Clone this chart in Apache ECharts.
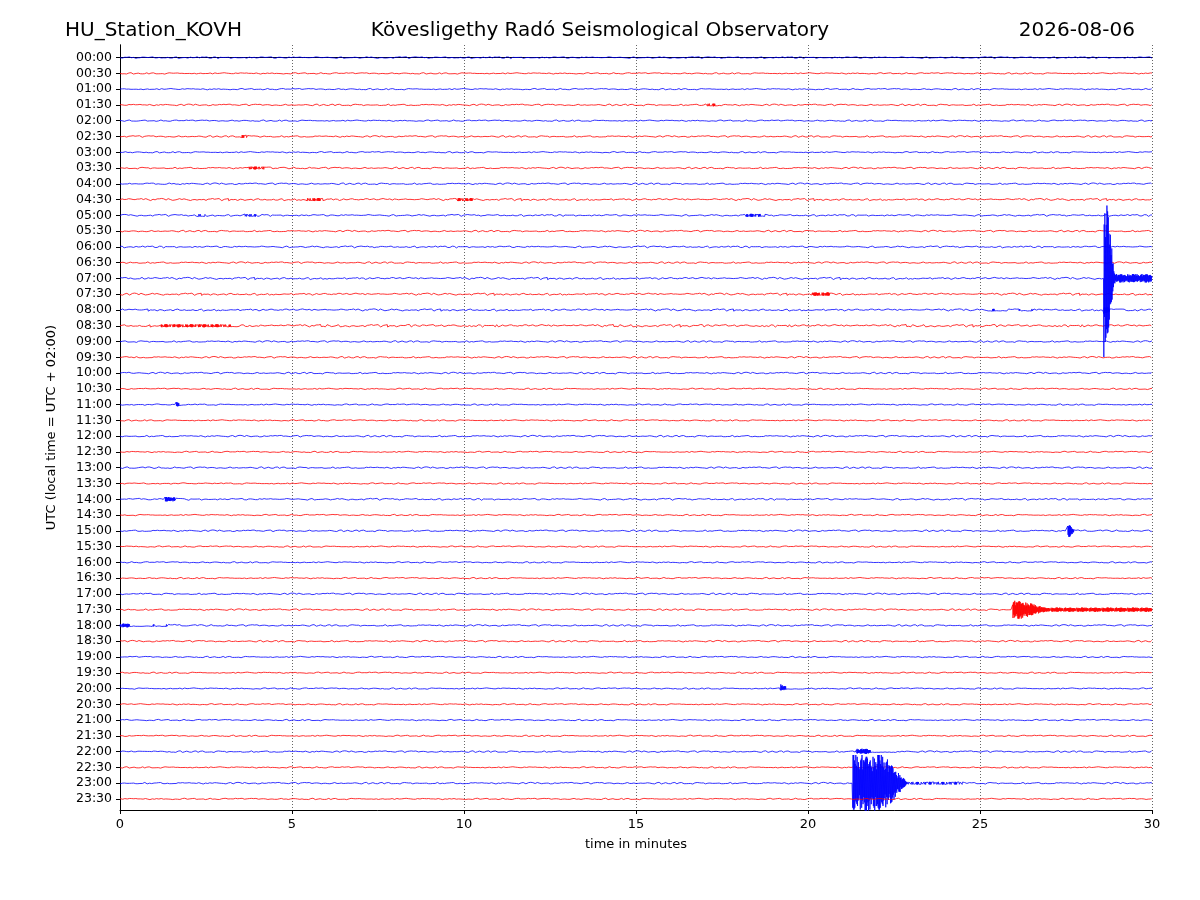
<!DOCTYPE html>
<html><head><meta charset="utf-8">
<script src="https://cdn.jsdelivr.net/npm/echarts@6/dist/echarts.min.js"></script>
<style>html,body{margin:0;background:#fff}#c{width:1200px;height:900px}</style>
</head><body><div id="c"></div>
<script>
const rowLabels = [];
for (let h = 0; h < 24; h++) { const hh = String(h).padStart(2,'0'); rowLabels.push(hh+':00', hh+':30'); }
const xTicks = [0,5,10,15,20,25,30];
// hand-typed base noise patterns
const noiseA = [0.3,-0.6,0.9,-0.2,-0.8,0.5,0.1,-0.4,0.7,-0.9,0.2,0.6,-0.3,-0.7,0.8,-0.1,0.4,-0.5,0.9,-0.6,0.0,0.5,-0.8,0.3,0.7,-0.2,-0.9,0.6,0.1,-0.4,0.8,-0.7,0.2,0.5,-0.3,-0.6,0.9];
const noiseB = [-0.5,0.8,-0.2,0.4,-0.9,0.6,0.1,-0.7,0.3,0.9,-0.4,-0.1,0.7,-0.8,0.5,0.2,-0.6,0.9,-0.3,0.0,0.6,-0.5,0.4];
// per-row noise level (units of row spacing)
const noiseLevel = [0.07,0.05,0.05,0.06,0.05,0.06,0.05,0.06,0.06,0.08,0.07,0.06,0.07,0.06,0.08,0.08,0.08,0.09,0.06,0.06,0.06,0.05,0.05,0.05,0.06,0.05,0.06,0.05,0.07,0.05,0.06,0.05,0.05,0.05,0.06,0.06,0.06,0.06,0.05,0.05,0.05,0.05,0.05,0.05,0.06,0.05,0.06,0.05];
// events: [row, startMin, peakDurMin, peakAmpUp, peakAmpDown, decayMin, codaEndMin, codaAmp]
const events = [
 [14, 28.6, 0.04, 5.9, 5.3, 0.3, 30.0, 0.28],
 [35, 25.95, 0.25, 0.6, 0.6, 0.9, 30.0, 0.14],
 [46, 21.3, 0.9, 1.9, 1.9, 0.7, 24.5, 0.09],
 [40, 19.2, 0.05, 0.3, 0.15, 0.2, 19.9, 0.06],
 [30, 27.55, 0.06, 0.4, 0.4, 0.15, 27.9, 0.07],
 [16, 25.3, 0.4, 0.08, 0.08, 0.4, 26.6, 0.07],
 [16, 28.6, 0.05, 0.25, 0.25, 0.2, 29.2, 0.07],
 [28, 1.3, 0.25, 0.15, 0.15, 0.2, 1.9, 0.06],
 [22, 1.6, 0.06, 0.2, 0.15, 0.1, 1.9, 0.05],
 [36, 0.0, 0.2, 0.13, 0.13, 0.3, 1.6, 0.07],
 [17, 1.2, 1.8, 0.1, 0.1, 0.3, 3.5, 0.08],
 [15, 20.1, 0.5, 0.12, 0.1, 0.2, 20.8, 0.07],
 [10, 2.2, 0.2, 0.09, 0.09, 0.2, 2.6, 0.07],
 [10, 3.6, 0.3, 0.09, 0.09, 0.2, 4.1, 0.07],
 [10, 18.2, 0.4, 0.1, 0.1, 0.2, 18.8, 0.07],
 [9, 5.4, 0.4, 0.1, 0.1, 0.2, 6.0, 0.08],
 [9, 9.8, 0.4, 0.1, 0.1, 0.2, 10.3, 0.08],
 [7, 3.7, 0.5, 0.1, 0.09, 0.2, 4.4, 0.06],
 [3, 17.0, 0.3, 0.09, 0.09, 0.2, 17.5, 0.06],
 [5, 3.5, 0.2, 0.09, 0.09, 0.2, 3.9, 0.06],
 [44, 21.4, 0.3, 0.2, 0.15, 0.3, 22.5, 0.06]
];
const step = 0.01;
const series = [];
for (let r = 0; r < 48; r++) {
  const evs = events.filter(e => e[0] === r);
  const pts = [];
  let k = 0;
  for (let t = 0; t <= 30.0001; t += step, k++) {
    const n = (noiseA[(k + r*7) % noiseA.length] + noiseB[(k*3 + r*5) % noiseB.length]) / 2;
    let v = n * noiseLevel[r];
    for (const e of evs) {
      const [, s, pd, up, dn, dec, ce, ca] = e;
      if (t >= s && t <= ce) {
        const mid = (up + dn) / 2;
        let a;
        if (t <= s + pd) a = 1;
        else { const f = Math.max(0, 1 - (t - s - pd) / dec); a = Math.max(ca / mid, f); }
        const amp = (k % 2 ? up : dn) * a;
        const w = Math.abs(noiseA[(k*5) % noiseA.length]) * 0.6 + 0.4;
        v = (k % 2 ? 1 : -1) * amp * w;
      }
    }
    pts.push([+t.toFixed(3), -r + v]);
  }
  series.push({type:'line', data: pts, showSymbol:false, animation:false, silent:true, sampling:null,
    lineStyle:{width:0.8, color: r % 2 ? '#ff0000' : '#0000ff'}, z: r===14?5:2});
}
const ax = {fontSize:13, color:'#000', fontFamily:'DejaVu Sans'};
const chart = echarts.init(document.getElementById('c'), null, {renderer:'canvas'});
chart.setOption({
  animation:false,
  title:[
    {text:'HU_Station_KOVH', left:60, top:16, textStyle:{fontSize:20, fontWeight:'normal', color:'#000', fontFamily:'DejaVu Sans'}},
    {text:'Kövesligethy Radó Seismological Observatory', left:'center', top:16, textStyle:{fontSize:20, fontWeight:'normal', color:'#000', fontFamily:'DejaVu Sans'}},
    {text:'2026-08-06', right:60, top:16, textStyle:{fontSize:20, fontWeight:'normal', color:'#000', fontFamily:'DejaVu Sans'}}
  ],
  grid:{left:120, right:48, top:45, bottom:90},
  xAxis:[{type:'value', min:0, max:30, interval:5, name:'time in minutes', nameLocation:'middle', nameGap:28,
    nameTextStyle:ax,
    axisLine:{onZero:false, lineStyle:{color:'#000'}}, axisTick:{lineStyle:{color:'#000'}, length:4},
    axisLabel:ax,
    splitLine:{show:true, lineStyle:{color:'#000', type:[1,2], width:0.6}}},
    {type:'value', min:0, max:30, position:'top', axisLine:{show:true, lineStyle:{color:'#000'}}, axisTick:{show:false}, axisLabel:{show:false}, splitLine:{show:false}}],
  yAxis:[{type:'value', min:-47.7, max:0.8, name:'UTC (local time = UTC + 02:00)', nameLocation:'middle', nameGap:62,
    nameTextStyle:ax,
    axisLine:{show:true, onZero:false, lineStyle:{color:'#000'}},
    axisTick:{show:true, length:4, lineStyle:{color:'#000'}, customValues: rowLabels.map((_,i)=>-i)},
    axisLabel:{fontSize:12.5, color:'#000', fontFamily:'DejaVu Sans', customValues: rowLabels.map((_,i)=>-i),
      formatter: v => rowLabels[Math.round(-v)] || ''},
    splitLine:{show:false}},
    {type:'value', min:-47.7, max:0.8, position:'right', axisLine:{show:true, lineStyle:{color:'#000'}}, axisTick:{show:false}, axisLabel:{show:false}, splitLine:{show:false}}],
  series
});
</script></body></html>
